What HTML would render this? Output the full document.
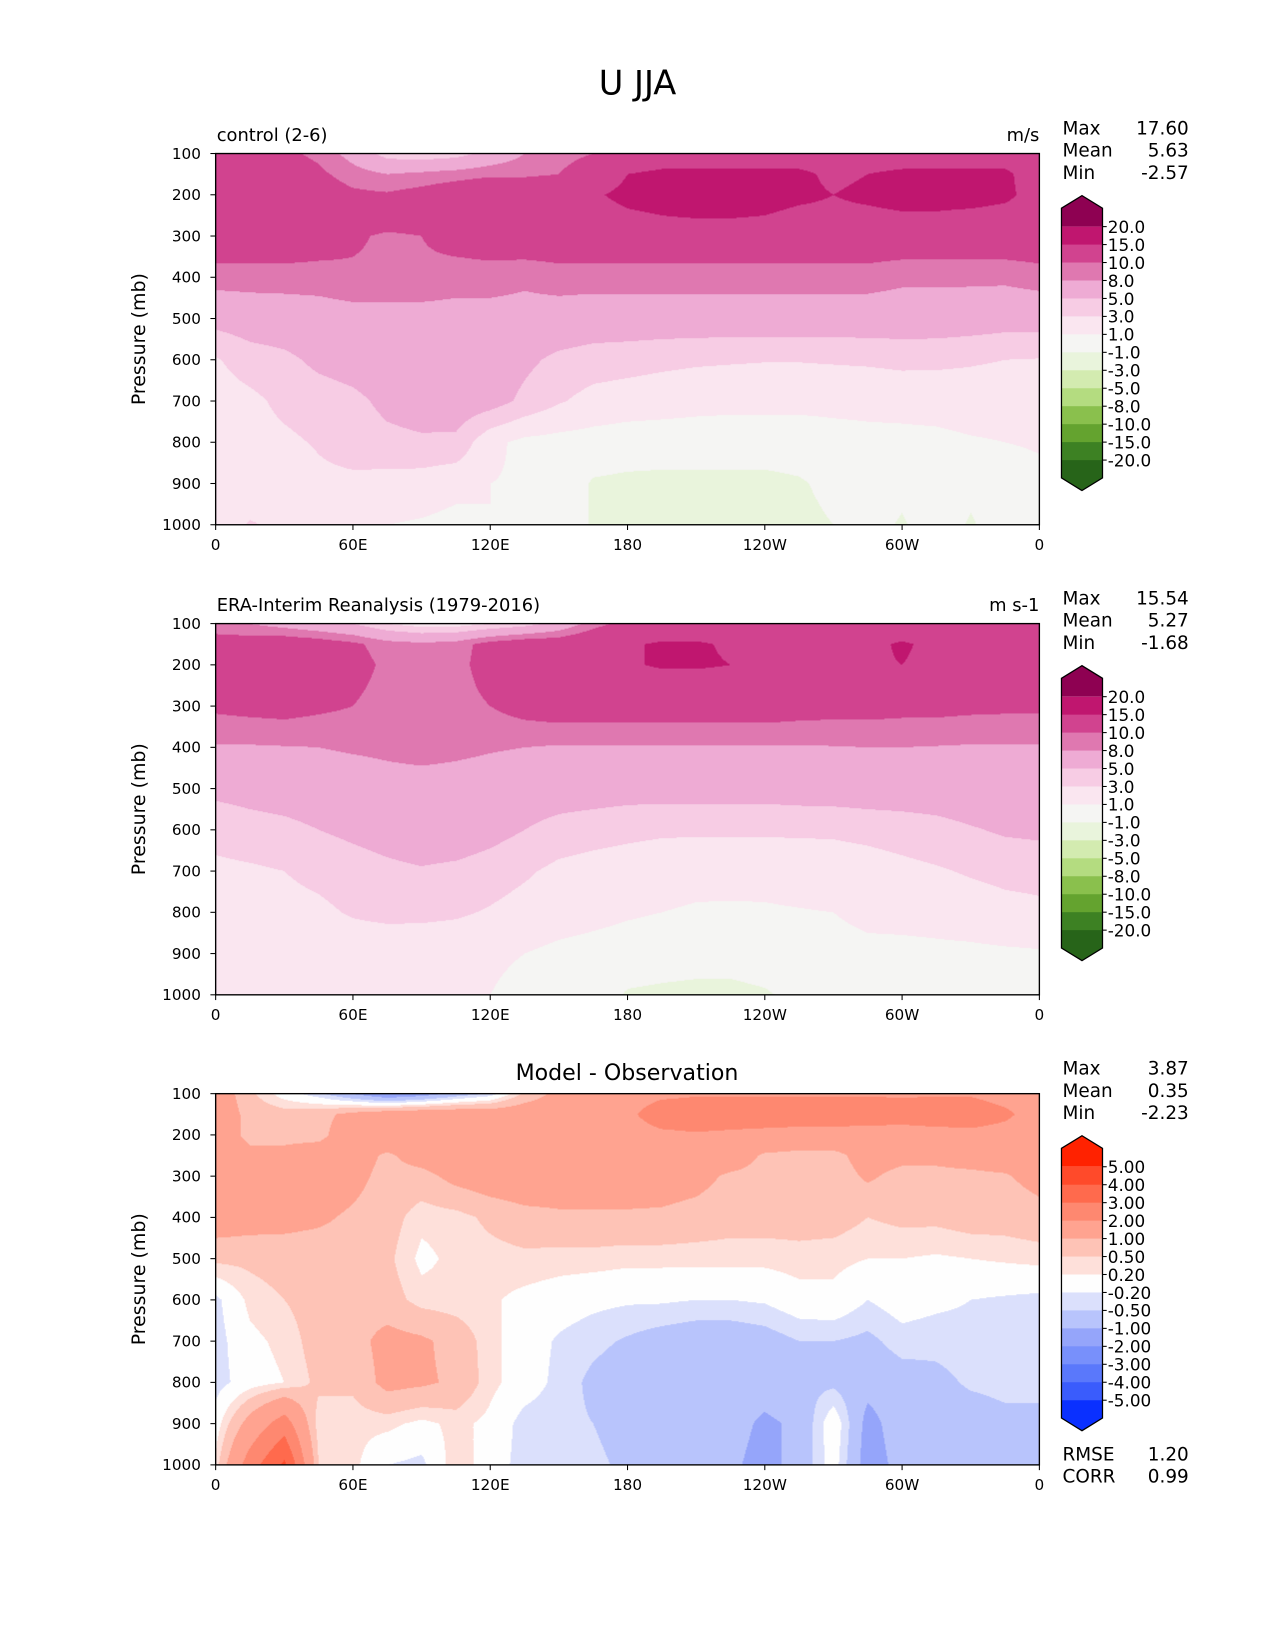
<!DOCTYPE html>
<html><head><meta charset="utf-8">
<style>
html,body{margin:0;padding:0;background:#fff;}
#page{position:absolute;left:0;top:0;width:1212px;height:1569px;transform-origin:0 0;transform:scale(1.052,1.0516);font-family:"DejaVu Sans","Liberation Sans",sans-serif;}
canvas{position:absolute;}
svg{position:absolute;left:0;top:0;}
</style></head>
<body>
<div id="page">
<canvas id="c0" style="left:205px;top:146px;width:783px;height:353px" width="824" height="372"></canvas>
<canvas id="c1" style="left:205px;top:593px;width:783px;height:353px" width="824" height="372"></canvas>
<canvas id="c2" style="left:205px;top:1040px;width:783px;height:353px" width="824" height="372"></canvas>
<svg id="ov" width="1212" height="1569"></svg>
</div>
<script>
const lons=[0,15,30,45,60,75,90,105,120,135,150,165,180,195,210,225,240,255,270,285,300,315,330,345,360];
const pres=[100,150,200,250,300,400,500,600,700,800,900,1000];
const control=[
[11,11,10.5,9.5,7,4,3.5,4,6,8,9,10,11,12,12,12,12,12,12,12,12,12,12,12,12],
[12,12,11.5,10.5,9,8,8.5,9,9.5,9.5,10,12,15,16,16,16,16,16,14,15,16,16,16,16,12],
[13,13,12.5,11.5,10.5,10.3,11,12,13,13,13,14.5,16,16.5,17,17,17,16,15,16,17,17,17,16,13],
[13,13,12.5,12,12,12,12,12.5,13,13,13,13.5,14.5,15,15.5,15.5,15,14,14,14,14.5,14.5,14,13.5,13],
[12,12,12,11.5,10.5,9.5,10,11,11.5,12,12,12,12,12,12,12,12,12,12,12,12,12,12,12,12],
[9,9,9,9,9.5,9.5,9.5,9,9,8.5,9,9,9,9,9,9,9,9,9,9,8.5,8.5,8.5,8.5,9],
[5.8,6.3,6.5,6.8,7,7,7,7,7,7,6.8,6.5,6.5,6.5,6.5,6.5,6.5,6.5,6.5,6.5,6.5,6.5,6.3,6,6],
[2.8,4,4.5,5.5,6,6.5,6.5,6.5,6.5,5.5,4.5,4,3.8,3.5,3.3,3.2,3.1,3.1,3.2,3.3,3.5,3.4,3.2,3,2.9],
[2,2.5,3.5,4,4.5,5.5,6,6.5,6,4.5,3.2,2.3,2,1.8,1.6,1.5,1.5,1.5,1.5,1.5,1.6,1.8,2,2,2],
[2,2.2,2.6,3.2,4,4.5,4.7,4.5,1.5,0.5,0.3,0.2,0,0,0,0,0,0,0.3,0.5,0.5,0.5,0.8,1,1.2],
[1.3,1.5,1.8,2.5,2.5,2.2,2,1.5,1,0.8,0.3,-1.2,-1.4,-1.5,-1.5,-1.5,-1.5,-1.2,-0.5,0,-0.5,0,-0.5,0,0.5],
[1.5,3.2,2.5,1.5,1.2,1,0.8,0.5,1,0.5,0.3,-1.2,-1.3,-1.5,-1.5,-1.5,-1.5,-1.5,-1,-0.3,-1.2,0,-1.2,0,0.5]
];
const era=[
[9,8,7,6,5,3,2,2,3,4,6,9,11,12,12,12,12,12,12,12,12,12,12,12,11],
[11,11.5,12,11.5,10.5,9,8.5,9,11,12,12,13,14.5,15.5,15.5,14.5,14,13,13,14,15.5,14,13,12,11],
[12,12.5,12.5,12,11,9.5,9,9,11.5,12.5,13,13.5,14.5,15.5,15.5,15,14.5,14,14,14.5,15,14,13.5,13,12],
[11.3,11.7,11.8,11.3,10.5,9.3,8.9,8.9,10.8,11.8,12.3,12.3,12.5,12.8,13,13,12.8,12.6,12.5,12.5,12.6,12.4,12,11.8,11.3],
[10.5,10.8,11,10.5,10,9,8.8,8.8,10,11,11.5,11.5,11.5,11.5,11.5,11.5,11.5,11.2,11,11,10.8,10.8,10.6,10.5,10.5],
[7.8,7.8,7.9,8,8.3,8.5,8.8,8.5,8.2,8,7.8,7.8,7.8,7.8,7.8,7.8,7.8,7.8,7.9,8,8,7.9,7.8,7.8,7.8],
[5.5,5.8,6,6.2,6.5,7,7,7,6.8,6.5,6.3,6.2,6,6,6,6,6,6.2,6.3,6.5,6.5,6.5,6.7,6.7,6.7],
[3.8,4.2,4.5,5,5.5,6,6.5,6.5,5.8,5,4.2,3.8,3.5,3.3,3.3,3.3,3.3,3.3,3.3,3.5,3.8,4.2,4.8,5.3,5.5],
[2.5,2.7,3,3.5,4,4.5,4.8,4.5,4,3.3,2.5,2.2,2,1.8,1.6,1.5,1.6,1.8,2,2.2,2.5,2.8,3.2,3.5,3.6],
[2,2.2,2.4,2.6,3.2,3.5,3.5,3.3,2.8,2.2,1.8,1.5,1.2,1,0.8,0.8,0.8,0.9,1,1.5,1.6,1.7,2,2.4,2.6],
[1.8,1.8,1.8,1.8,1.8,1.7,1.6,1.5,1.3,1,0.6,0.4,0.2,0,-0.2,-0.2,0,0.2,0.3,0.5,0.5,0.6,0.6,0.7,0.8],
[1.2,1.2,1.3,1.3,1.3,1.2,1.2,1.1,1,0.5,0.2,0,-1.2,-1.4,-1.5,-1.5,-1.2,-0.5,0,0.2,0.3,0.4,0.4,0.4,0.4]
];
const diff=[
[1.5,0.6,0,-0.4,-1,-1.6,-1.3,-0.8,-0.4,0.6,1.2,1.5,1.6,1.8,1.9,1.9,1.9,1.9,1.9,1.9,1.9,1.9,1.9,1.6,1.5],
[1.5,0.8,0.7,0.8,1.2,1.5,1.6,1.6,1.5,1.5,1.5,1.6,1.8,2.5,2.6,2.6,2.6,2.6,2.6,2.6,2.4,2.6,2.6,2.2,1.5],
[1.5,0.8,0.8,0.8,1.5,1.5,1.5,1.5,1.5,1.5,1.5,1.5,1.6,1.8,1.9,1.8,1.7,1.6,1.6,1.5,1.6,1.6,1.7,1.6,1.5],
[1.5,1.2,1.2,1.4,1.3,0.9,1.3,1.5,1.5,1.5,1.5,1.5,1.5,1.5,1.5,1.4,0.9,0.8,0.8,1.3,1.2,1.1,1.2,1.3,1.5],
[1.5,1.5,1.5,1.5,1.2,0.8,0.8,1.2,1.4,1.5,1.4,1.4,1.4,1.3,1.2,0.9,0.8,0.8,0.7,1.1,0.8,0.9,0.9,0.95,1.2],
[1.4,1.3,1.2,1.1,0.9,0.7,0.3,0.35,0.6,0.8,0.9,0.9,0.9,0.9,0.8,0.7,0.7,0.7,0.7,0.5,0.6,0.6,0.7,0.7,0.8],
[0.6,0.6,0.7,0.7,0.8,0.6,0.1,0.3,0.35,0.4,0.35,0.35,0.3,0.3,0.3,0.3,0.3,0.35,0.3,0.2,0.2,0.15,0.2,0.25,0.3],
[-0.3,0.3,0.5,0.7,0.8,0.7,0.35,0.3,0.25,0.1,0,-0.1,-0.15,-0.15,-0.2,-0.2,-0.15,0.05,0.1,-0.2,0,-0.1,-0.2,-0.25,-0.3],
[-0.35,0.1,0.3,0.7,0.8,1.2,1.1,0.8,0.3,0,-0.25,-0.4,-0.55,-0.7,-0.8,-0.8,-0.7,-0.5,-0.5,-0.6,-0.35,-0.4,-0.35,-0.3,-0.3],
[-0.35,0,0.2,0.6,0.6,1.2,1.1,0.9,0.3,0,-0.3,-0.6,-0.75,-0.8,-0.8,-0.75,-0.75,-0.6,-0.6,-0.8,-0.7,-0.6,-0.45,-0.4,-0.4],
[0,1.3,2.5,0.3,0.3,0.3,0.1,0.3,0.1,-0.35,-0.4,-0.5,-0.7,-0.8,-0.9,-0.8,-1.1,-0.9,0.1,-1.2,-0.7,-0.7,-0.7,-0.6,-0.6],
[0.3,2.5,4.2,0.5,0.3,-0.2,-0.3,0.4,0,-0.35,-0.5,-0.4,-0.6,-0.7,-0.8,-0.9,-1.2,-0.8,0,-1.3,-0.8,-0.7,-0.7,-0.6,-0.6]
];
const uLevels=[-20,-15,-10,-8,-5,-3,-1,1,3,5,8,10,15,20];
const uColors=['#276419','#3d8123','#64a32f','#8ac04d','#b4dc80','#d3ebb0','#e9f4dc','#f5f5f3','#fae6f0','#f7cce4','#eeabd4','#df78b0','#d1438f','#c0166f','#8e0152'];
const uLabels=['20.0','15.0','10.0','8.0','5.0','3.0','1.0','-1.0','-3.0','-5.0','-8.0','-10.0','-15.0','-20.0'];
const dLevels=[-5,-4,-3,-2,-1,-0.5,-0.2,0.2,0.5,1,2,3,4,5];
const dColors=['#0a30ff','#3a5cfc','#5a78fb','#7890fb','#95a5fa','#b8c4fc','#dbe0fc','#fefefe','#fee0da','#fec3b6','#ffa390','#fe8870','#ff6a4d','#ff4a2a','#ff2200'];
const dLabels=['5.00','4.00','3.00','2.00','1.00','0.50','0.20','-0.20','-0.50','-1.00','-2.00','-3.00','-4.00','-5.00'];
const yTicks=[100,200,300,400,500,600,700,800,900,1000];
const xTickVals=[0,60,120,180,240,300,360];
const xTickLabels=['0','60E','120E','180','120W','60W','0'];
const panelTops=[146,593,1040];
const panelLeft=[{t:'control (2-6)',r:'m/s'},{t:'ERA-Interim Reanalysis (1979-2016)',r:'m s-1'},{t:'',r:''}];
const stats=[['17.60','5.63','-2.57'],['15.54','5.27','-1.68'],['3.87','0.35','-2.23']];
const X0=205,W=783,H=353;

function hex(c){return [parseInt(c.slice(1,3),16),parseInt(c.slice(3,5),16),parseInt(c.slice(5,7),16)];}
function levelIndex(v,lv){let i=0;while(i<lv.length&&v>=lv[i])i++;return i;}
function interp(field,lon,p){
  let fi=lon/15;let i0=Math.min(Math.floor(fi),lons.length-2);let tx=fi-i0;
  let j0=0;while(j0<pres.length-2&&p>pres[j0+1])j0++;
  let ty=(p-pres[j0])/(pres[j0+1]-pres[j0]);ty=Math.max(0,Math.min(1,ty));
  const a=field[j0][i0],b=field[j0][i0+1],c=field[j0+1][i0],d=field[j0+1][i0+1];
  return a*(1-tx)*(1-ty)+b*tx*(1-ty)+c*(1-tx)*ty+d*tx*ty;
}
function draw(id,field,lv,cols){
  const cv=document.getElementById(id);const ctx=cv.getContext('2d');
  const w=cv.width,h=cv.height;const img=ctx.createImageData(w,h);
  const rgb=cols.map(hex);
  for(let y=0;y<h;y++){const p=100+900*(y+0.5)/h;
    for(let x=0;x<w;x++){const lon=360*(x+0.5)/w;
      const v=interp(field,lon,p);const c=rgb[levelIndex(v,lv)];
      const k=(y*w+x)*4;img.data[k]=c[0];img.data[k+1]=c[1];img.data[k+2]=c[2];img.data[k+3]=255;}}
  ctx.putImageData(img,0,0);
}
draw('c0',control,uLevels,uColors);
draw('c1',era,uLevels,uColors);
draw('c2',diff,dLevels,dColors);

const NS='http://www.w3.org/2000/svg';const svg=document.getElementById('ov');
function el(tag,attrs,txt){const e=document.createElementNS(NS,tag);for(const k in attrs)e.setAttribute(k,attrs[k]);if(txt!==undefined)e.textContent=txt;svg.appendChild(e);return e;}
let t=el('text',{x:606,y:90,'font-size':32,'text-anchor':'middle'},'U JJA');


for(let k=0;k<3;k++){
  const top=panelTops[k];
  const fr=el('rect',{x:X0,y:top,width:W,height:H,fill:'none',stroke:'#000','stroke-width':1.3});
  
  
  yTicks.forEach(p=>{const y=top+(p-100)/900*H;
    const tk=el('line',{x1:X0-5,x2:X0,y1:y,y2:y,stroke:'#000','stroke-width':1});
    
    
    const tl=el('text',{x:X0-14,y:y+5,'font-size':14.5,'text-anchor':'end'},String(p));
    
    });
  xTickVals.forEach((v,i)=>{const x=X0+v/360*W;
    const tk=el('line',{x1:x,x2:x,y1:top+H,y2:top+H+5,stroke:'#000','stroke-width':1});
    
    
    const tl=el('text',{x:x,y:top+H+24,'font-size':14.5,'text-anchor':'middle'},xTickLabels[i]);
    
    });
  const yl=el('text',{x:0,y:0,'font-size':18,'text-anchor':'middle',transform:'translate(138,'+(top+H/2)+') rotate(-90)'},'Pressure (mb)');
  
  
  if(panelLeft[k].t){const a=el('text',{x:206,y:top-12,'font-size':17},panelLeft[k].t);
    
    
    const b=el('text',{x:988,y:top-12,'font-size':17,'text-anchor':'end'},panelLeft[k].r);
    
    }
  else{const a=el('text',{x:596,y:top-13,'font-size':21,'text-anchor':'middle'},'Model - Observation');
    
    }
  ['Max','Mean','Min'].forEach((n,i)=>{const y=top-18+i*21;
    const a=el('text',{x:1010,y:y,'font-size':17.5},n);
    
    
    const b=el('text',{x:1130,y:y,'font-size':17.5,'text-anchor':'end'},stats[k][i]);
    
    });
  const cols=k<2?uColors:dColors;const labs=k<2?uLabels:dLabels;
  const cx0=1009,cx1=1048,cb0=top+69.5,cell=(437.5-215.5)/13,cb1=cb0+13*cell;
  el('polygon',{points:`${cx0},${cb0} ${cx0},${top+52} ${(cx0+cx1)/2},${top+40} ${cx1},${top+52} ${cx1},${cb0}`,fill:cols[14]});
  for(let i=0;i<13;i++){const r=el('rect',{x:cx0,y:cb0+i*cell,width:cx1-cx0,height:cell+0.5,fill:cols[13-i]});
    
    }
  el('polygon',{points:`${cx0},${cb1} ${cx0},${cb1+17} ${(cx0+cx1)/2},${cb1+29} ${cx1},${cb1+17} ${cx1},${cb1}`,fill:cols[0]});
  const ol=el('polygon',{points:`${cx0},${top+52} ${(cx0+cx1)/2},${top+40} ${cx1},${top+52} ${cx1},${cb1+17} ${(cx0+cx1)/2},${cb1+29} ${cx0},${cb1+17}`,fill:'none',stroke:'#000','stroke-width':1.2});
  
  
  labs.forEach((s,i)=>{const y=cb0+i*cell;
    el('line',{x1:cx1,x2:cx1+4,y1:y,y2:y,stroke:'#000','stroke-width':1});
    const a=el('text',{x:1053,y:y+6,'font-size':16},s);
    
    });
}
[['RMSE','1.20',1389],['CORR','0.99',1410]].forEach(r=>{
  const a=el('text',{x:1010,y:r[2],'font-size':17.5},r[0]);
  
  
  const b=el('text',{x:1130,y:r[2],'font-size':17.5,'text-anchor':'end'},r[1]);
  
  
});
</script>
</body></html>
